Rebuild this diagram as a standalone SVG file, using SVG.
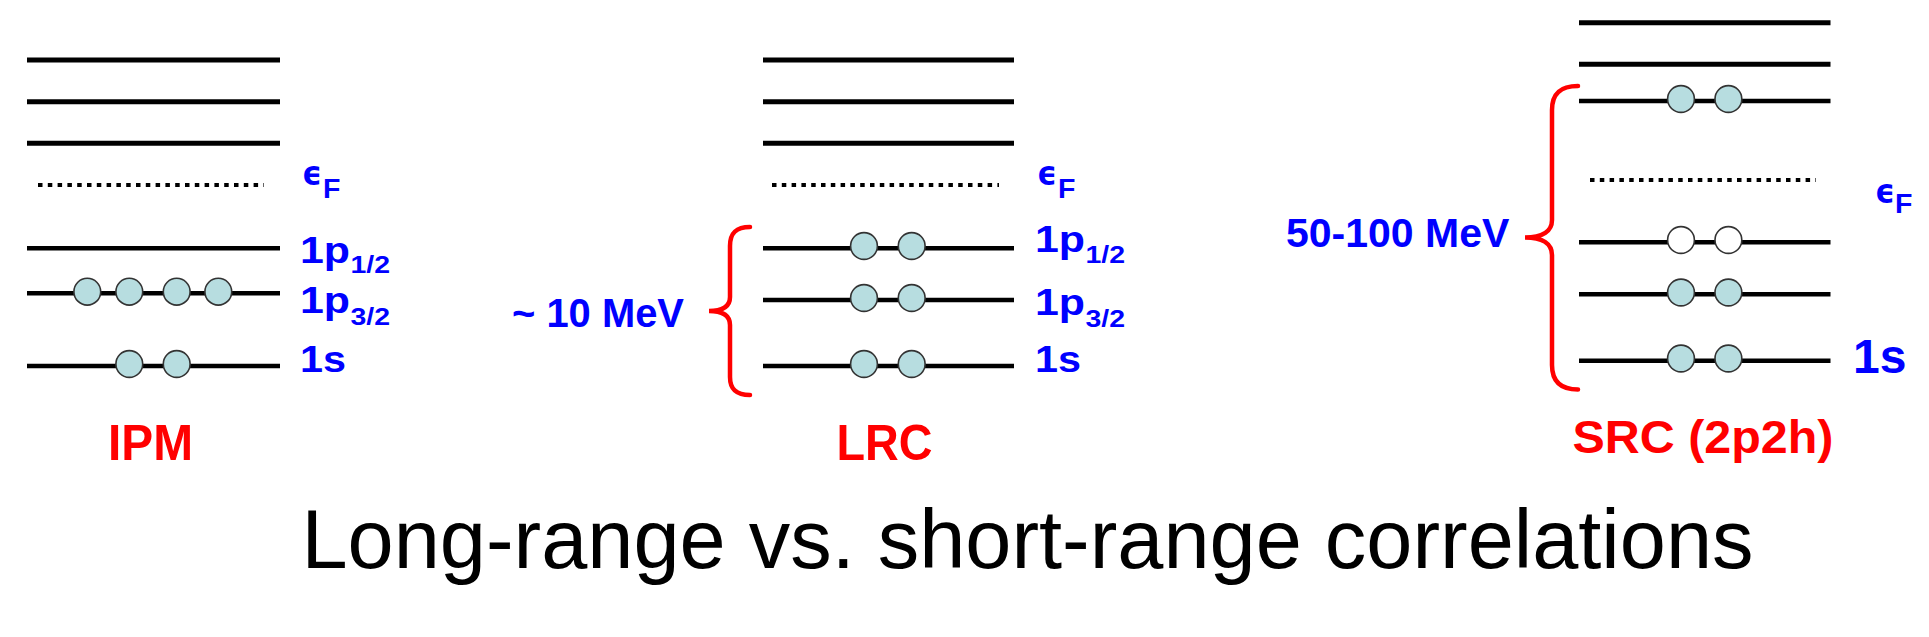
<svg xmlns="http://www.w3.org/2000/svg" width="1929" height="637" viewBox="0 0 1929 637">
<style>
.lv{stroke:#000;stroke-width:4.5;fill:none}
.lvt{stroke:#000;stroke-width:5;fill:none}
.dot{stroke:#000;stroke-width:4;stroke-dasharray:4.5 5.3;fill:none}
.p{fill:#b7dde0;stroke:#333;stroke-width:1.6}
.h{fill:#fff;stroke:#333;stroke-width:1.6}
.br{stroke:#ff0000;stroke-width:4.5;fill:none;stroke-linecap:round}
.bl{fill:#0000ff;font-family:"Liberation Sans",Arial,sans-serif;font-weight:bold}
.eps{fill:#0000ff;font-family:"DejaVu Sans","Noto Sans",sans-serif;font-weight:bold;font-size:34px}
.rd{fill:#ff0000;font-family:"Liberation Sans",Arial,sans-serif;font-weight:bold}
.ttl{fill:#000;font-family:"Liberation Sans",Arial,sans-serif;font-size:83px}
</style>
<rect width="1929" height="637" fill="#fff"/>

<g id="ipm">
  <line class="lvt" x1="27" y1="60" x2="280" y2="60"/>
  <line class="lvt" x1="27" y1="101.7" x2="280" y2="101.7"/>
  <line class="lvt" x1="27" y1="143.3" x2="280" y2="143.3"/>
  <line class="dot" x1="38" y1="185" x2="264" y2="185"/>
  <line class="lv" x1="27" y1="248.3" x2="280" y2="248.3"/>
  <line class="lv" x1="27" y1="293.3" x2="280" y2="293.3"/>
  <line class="lv" x1="27" y1="366" x2="280" y2="366"/>
  <circle class="p" cx="87.3" cy="291.7" r="13.4"/>
  <circle class="p" cx="129.3" cy="291.7" r="13.4"/>
  <circle class="p" cx="176.7" cy="291.7" r="13.4"/>
  <circle class="p" cx="218.3" cy="291.7" r="13.4"/>
  <circle class="p" cx="129.3" cy="364" r="13.4"/>
  <circle class="p" cx="176.7" cy="364" r="13.4"/>
  <text class="eps" x="302" y="185" textLength="20" lengthAdjust="spacingAndGlyphs">ϵ</text>
  <text class="bl" x="323" y="198" font-size="28.5">F</text>
  <text class="bl" x="300" y="263.3" font-size="37" textLength="50" lengthAdjust="spacingAndGlyphs">1p</text>
  <text class="bl" x="350.5" y="273.3" font-size="24" textLength="39.5" lengthAdjust="spacingAndGlyphs">1/2</text>
  <text class="bl" x="300" y="313.3" font-size="37" textLength="50" lengthAdjust="spacingAndGlyphs">1p</text>
  <text class="bl" x="350.5" y="325" font-size="24" textLength="39.5" lengthAdjust="spacingAndGlyphs">3/2</text>
  <text class="bl" x="300" y="371.7" font-size="36" textLength="46" lengthAdjust="spacingAndGlyphs">1s</text>
  <text class="rd" x="108" y="460" font-size="50" textLength="85" lengthAdjust="spacingAndGlyphs">IPM</text>
</g>

<g id="lrc">
  <line class="lvt" x1="763" y1="60" x2="1014" y2="60"/>
  <line class="lvt" x1="763" y1="101.7" x2="1014" y2="101.7"/>
  <line class="lvt" x1="763" y1="143.3" x2="1014" y2="143.3"/>
  <line class="dot" x1="772" y1="185" x2="999" y2="185"/>
  <line class="lv" x1="763" y1="248.3" x2="1014" y2="248.3"/>
  <line class="lv" x1="763" y1="300" x2="1014" y2="300"/>
  <line class="lv" x1="763" y1="366" x2="1014" y2="366"/>
  <circle class="p" cx="864" cy="246" r="13.4"/>
  <circle class="p" cx="911.7" cy="246" r="13.4"/>
  <circle class="p" cx="864" cy="298" r="13.4"/>
  <circle class="p" cx="911.7" cy="298" r="13.4"/>
  <circle class="p" cx="864" cy="364" r="13.4"/>
  <circle class="p" cx="911.7" cy="364" r="13.4"/>
  <text class="eps" x="1037" y="185" textLength="20" lengthAdjust="spacingAndGlyphs">ϵ</text>
  <text class="bl" x="1058" y="198" font-size="28.5">F</text>
  <text class="bl" x="1035" y="251.7" font-size="37" textLength="50" lengthAdjust="spacingAndGlyphs">1p</text>
  <text class="bl" x="1085.5" y="263.3" font-size="24" textLength="39.5" lengthAdjust="spacingAndGlyphs">1/2</text>
  <text class="bl" x="1035" y="315" font-size="37" textLength="50" lengthAdjust="spacingAndGlyphs">1p</text>
  <text class="bl" x="1085.5" y="326.7" font-size="24" textLength="39.5" lengthAdjust="spacingAndGlyphs">3/2</text>
  <text class="bl" x="1035" y="371.7" font-size="36" textLength="46" lengthAdjust="spacingAndGlyphs">1s</text>
  <text class="bl" x="512" y="326.7" font-size="41" textLength="172" lengthAdjust="spacingAndGlyphs">~ 10 MeV</text>
  <text class="rd" x="836.5" y="460" font-size="50" textLength="96" lengthAdjust="spacingAndGlyphs">LRC</text>
</g>

<g id="src">
  <line class="lvt" x1="1579" y1="22.7" x2="1830.5" y2="22.7"/>
  <line class="lvt" x1="1579" y1="64.3" x2="1830.5" y2="64.3"/>
  <line class="lv" x1="1579" y1="101" x2="1830.5" y2="101"/>
  <line class="dot" x1="1590" y1="180" x2="1816" y2="180"/>
  <line class="lv" x1="1579" y1="242.3" x2="1830.5" y2="242.3"/>
  <line class="lv" x1="1579" y1="294.3" x2="1830.5" y2="294.3"/>
  <line class="lv" x1="1579" y1="360.7" x2="1830.5" y2="360.7"/>
  <circle class="p" cx="1681" cy="99" r="13.4"/>
  <circle class="p" cx="1728.4" cy="99" r="13.4"/>
  <circle class="h" cx="1681" cy="240" r="13.4"/>
  <circle class="h" cx="1728.4" cy="240" r="13.4"/>
  <circle class="p" cx="1681" cy="292.5" r="13.4"/>
  <circle class="p" cx="1728.4" cy="292.5" r="13.4"/>
  <circle class="p" cx="1681" cy="358.5" r="13.4"/>
  <circle class="p" cx="1728.4" cy="358.5" r="13.4"/>
  <text class="eps" x="1875" y="202.7" textLength="20" lengthAdjust="spacingAndGlyphs">ϵ</text>
  <text class="bl" x="1895" y="213.3" font-size="28.5">F</text>
  <text class="bl" x="1853" y="373.3" font-size="48">1s</text>
  <text class="bl" x="1286" y="246.7" font-size="41">50-100 MeV</text>
  <text class="rd" x="1572.5" y="453.3" font-size="47" textLength="261" lengthAdjust="spacingAndGlyphs">SRC (2p2h)</text>
</g>

<g id="connectors">
  <path class="br" d="M750,227 C736,227 730,233 730,246 L730,297 C730,306 724,311 709,311 C724,311 730,316 730,325 L730,377 C730,389 736,395 750,395"/>
  <path class="br" d="M1578,86 C1560,86 1552,94 1552,110 L1552,220 C1552,231 1543,237.5 1525,237.5 C1543,237.5 1552,244 1552,255 L1552,365 C1552,381 1560,389.5 1578,389.5"/>
</g>

<g id="title">
  <text class="ttl" x="301.5" y="568.3" textLength="1452" lengthAdjust="spacingAndGlyphs">Long-range vs. short-range correlations</text>
</g>
</svg>
